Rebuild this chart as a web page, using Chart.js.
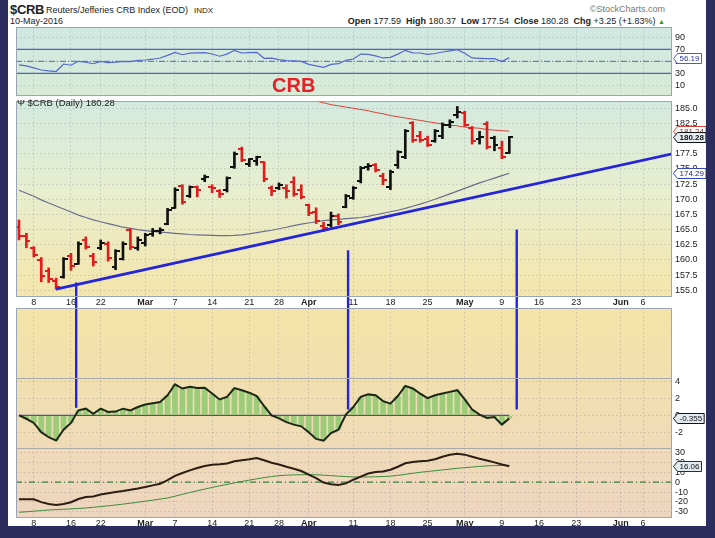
<!DOCTYPE html>
<html>
<head>
<meta charset="utf-8">
<script src="https://cdn.jsdelivr.net/npm/chart.js@4"></script>
<style>
html, body { margin: 0; padding: 0; }
body { width: 715px; height: 538px; background: #2c2d5e; position: relative; overflow: hidden;
       font-family: "Liberation Sans", Arial, sans-serif; color: #222; }
#card { position: absolute; left: 8px; top: 0; width: 698px; height: 526px; background: #fff; }
canvas { position: absolute; left: 8px; }
.t { position: absolute; white-space: nowrap; z-index: 5; }
.t b { font-weight: bold; }
</style>
</head>
<body>
<div id="card"></div>
<canvas id="rsi" width="698" height="69" style="top:27px"></canvas>
<canvas id="main" width="698" height="212" style="top:96px"></canvas>
<canvas id="lower" width="698" height="219" style="top:308px"></canvas>

<div class="t" style="left:10px;top:2px;font-size:13px;font-weight:bold;letter-spacing:-0.3px">$CRB</div>
<div class="t" style="left:46px;top:5px;font-size:9px">Reuters/Jefferies CRB Index (EOD)</div>
<div class="t" style="left:194px;top:6px;font-size:8px">INDX</div>
<div class="t" style="left:10px;top:16px;font-size:9px">10-May-2016</div>
<div class="t" style="right:50px;top:4px;font-size:9px;color:#777">&copy;StockCharts.com</div>
<div class="t" style="right:50px;top:16px;font-size:9px"><b>Open</b> 177.59 &nbsp;<b>High</b> 180.37 &nbsp;<b>Low</b> 177.54 &nbsp;<b>Close</b> 180.28 &nbsp;<b>Chg</b> +3.25 (+1.83%) <span style="color:#2a9a2a;font-size:7px">&#9650;</span></div>
<div class="t" style="left:272px;top:74px;font-size:20px;font-weight:bold;color:#e52127">CRB</div>
<div class="t" id="legend" style="left:17px;top:97px;font-size:9.5px"></div>

<script>
// x positions are trading-day indexes (Feb 4 .. May 10, then empty days to Jun 10)
const tickIdx = [2, 7, 11, 17, 21, 26, 31, 35, 39, 45, 50, 55, 60, 65, 70, 75, 81, 84];
const tickLabels = ['8', '16', '22', 'Mar', '7', '14', '21', '28', 'Apr', '11', '18', '25', 'May', '9', '16', '23', 'Jun', '6'];

// daily OHLC
const opens = [165.4, 163.9, 161.9, 160.0, 158.2, 156.6, 157.2, 160.6, 159.4, 163.3,
  160.6, 161.9, 162.6, 158.8, 160.2, 164.9, 162.0, 162.8, 164.3, 164.7,
  166.0, 168.6, 172.2, 170.6, 172.0, 173.3, 172.1, 171.4, 171.6, 175.4,
  178.3, 175.9, 176.3, 176.2, 171.8, 171.9, 171.9, 172.8, 171.6, 169.0,
  167.9, 165.6, 165.8, 167.2, 168.8, 170.2, 173.0, 175.3, 175.7, 173.8,
  172.0, 175.6, 177.0, 182.5, 180.5, 179.9, 179.6, 180.5, 182.2, 183.9,
  184.2, 181.8, 180.0, 182.4, 180.1, 178.4, 177.59];
const highs = [166.6, 164.4, 162.2, 160.4, 158.7, 157.0, 160.4, 161.1, 163.0, 163.8,
  161.1, 163.3, 163.0, 161.7, 163.0, 165.2, 163.8, 164.4, 165.2, 165.3,
  168.5, 171.9, 172.4, 172.2, 172.2, 174.0, 172.4, 171.6, 173.7, 177.8,
  178.6, 176.7, 177.1, 176.2, 172.2, 172.7, 172.4, 173.7, 172.4, 169.2,
  168.6, 166.2, 167.9, 167.6, 170.8, 172.1, 175.4, 175.9, 175.9, 174.3,
  174.8, 178.0, 181.5, 182.8, 181.2, 180.4, 181.5, 182.6, 183.1, 185.3,
  184.5, 182.0, 181.2, 182.8, 180.4, 179.6, 180.37];
const lows = [163.3, 162.0, 160.5, 156.4, 156.3, 155.2, 157.0, 158.3, 159.3, 161.8,
  159.0, 161.7, 159.8, 158.4, 160.0, 161.7, 161.6, 162.3, 163.9, 164.3,
  165.8, 168.5, 169.2, 170.3, 170.4, 172.9, 171.1, 170.3, 171.2, 175.1,
  176.2, 175.4, 175.6, 172.9, 170.6, 171.6, 170.2, 170.5, 170.1, 167.3,
  166.0, 164.7, 165.4, 165.8, 168.6, 170.0, 172.7, 174.8, 174.5, 172.4,
  171.6, 175.1, 176.7, 179.4, 179.4, 178.7, 179.4, 180.0, 181.8, 183.4,
  182.0, 179.1, 179.1, 178.3, 178.0, 176.7, 177.54];
const closes = [164.0, 163.2, 160.9, 157.4, 156.8, 155.6, 160.1, 159.0, 162.6, 162.2,
  159.6, 162.8, 160.4, 161.4, 162.6, 162.2, 163.3, 164.1, 164.7, 165.0,
  168.3, 171.6, 169.6, 172.0, 171.5, 173.6, 171.8, 170.8, 173.5, 177.5,
  176.5, 176.6, 176.9, 173.4, 171.3, 172.3, 171.4, 170.9, 170.4, 167.8,
  166.4, 165.3, 167.3, 166.3, 170.5, 171.8, 175.1, 175.5, 174.8, 173.1,
  174.5, 177.8, 181.3, 179.8, 179.7, 179.0, 181.2, 182.3, 182.7, 184.4,
  182.3, 179.6, 180.2, 178.6, 178.9, 177.03, 180.28];

// moving averages
const maShort = [171.5, 171.0, 170.5, 169.9, 169.4, 168.9, 168.4, 167.9, 167.4, 167.0,
  166.6, 166.3, 166.0, 165.7, 165.4, 165.2, 165.0, 164.85, 164.7, 164.6,
  164.5, 164.4, 164.3, 164.2, 164.15, 164.1, 164.05, 164.0, 164.0, 164.05,
  164.15, 164.3, 164.5, 164.7, 164.9, 165.15, 165.4, 165.65, 165.9, 166.1,
  166.3, 166.5, 166.6, 166.7, 166.8, 166.9, 167.0, 167.2, 167.45, 167.7,
  167.95, 168.2, 168.5, 168.85, 169.2, 169.6, 170.0, 170.45, 170.9, 171.35,
  171.8, 172.25, 172.7, 173.1, 173.5, 173.9, 174.29];
const maLongStart = 39;
const maLong = [186.6, 186.2, 185.9, 185.6, 185.4, 185.2, 185.0, 184.8, 184.6, 184.3,
  184.1, 183.8, 183.6, 183.4, 183.2, 183.0, 182.8, 182.6, 182.4, 182.2,
  182.1, 181.9, 181.8, 181.7, 181.5, 181.4, 181.3, 181.24];

// RSI panel
const rsi = [44, 42.5, 39, 35.5, 34, 33, 45.5, 43.5, 50, 48.5,
  46, 50, 47.8, 48.5, 50, 49.4, 51.5, 52.2, 53.5, 55.5,
  60, 65, 61, 63.5, 64, 64.4, 62.2, 58.5, 62, 68.3,
  63.9, 64.5, 65, 55, 55.3, 52.8, 51.2, 50.6, 50, 45,
  42.5, 40, 45, 46, 51.5, 53.9, 62, 61.5, 59, 55.6,
  56.7, 62, 68.3, 64, 63.9, 61.5, 63, 65.5, 67.5, 69.4,
  63.5, 55.6, 55, 54.4, 54.4, 49.5, 56.19];
const rsiTicks = [90, 70, 50, 30, 10];

// histogram panel
const hist = [0.0, -0.4, -0.9, -2.0, -2.6, -3.0, -1.7, -0.9, 0.6, 0.8,
  0.2, 0.8, 0.4, 0.45, 0.8, 0.6, 1.0, 1.3, 1.45, 1.6,
  2.4, 3.7, 3.2, 3.4, 3.25, 3.3, 2.6, 1.9, 2.2, 3.25,
  3.0, 2.7, 2.3, 1.1, 0.0, -0.35, -0.8, -1.1, -1.3, -2.0,
  -2.8, -3.0, -2.1, -1.7, 0.1, 1.0, 2.2, 2.5, 2.4, 1.7,
  1.4, 2.3, 3.5, 3.2, 2.6, 2.05, 2.4, 2.6, 2.8, 3.0,
  1.9, 0.7, 0.1, -0.3, -0.2, -1.1, -0.355];
const histTicks = [4, 2, 0, -2];

// bottom oscillator panel
const osc = [-17.2, -17.2, -17.4, -20.2, -22.0, -23.0, -22.0, -20.3, -17.0, -15.0,
  -14.5, -12.6, -11.2, -10.0, -9.0, -7.8, -6.5, -5.0, -3.3, -1.7,
  2.0, 6.3, 9.2, 11.8, 14.3, 16.3, 17.4, 17.9, 18.8, 21.0,
  22.0, 23.0, 24.3, 22.0, 19.5, 17.8, 15.5, 13.5, 11.2, 7.6,
  4.0, -0.4, -2.2, -3.0, -1.3, 2.4, 5.5, 8.7, 10.2, 10.7,
  12.5, 15.5, 19.0, 20.2, 21.0, 21.6, 23.0, 25.6, 27.5, 28.7,
  27.7, 25.6, 23.6, 21.8, 19.9, 17.8, 16.06];
const oscSignal = [-30.4, -29.9, -29.3, -28.7, -28.1, -27.7, -27.4, -27.0, -26.6, -26.1,
  -25.4, -24.7, -23.9, -23.1, -22.2, -21.3, -20.3, -19.3, -18.2, -17.1,
  -16.0, -14.2, -12.3, -10.5, -8.8, -7.0, -5.4, -3.8, -2.3, -0.8,
  0.6, 2.0, 3.3, 4.5, 5.6, 6.5, 7.0, 7.3, 7.4, 7.5,
  7.4, 7.0, 6.5, 6.0, 5.6, 5.2, 5.1, 5.2, 5.4, 5.6,
  6.0, 6.8, 7.8, 8.9, 9.9, 10.7, 11.5, 12.3, 13.1, 13.9,
  14.6, 15.2, 15.8, 16.4, 16.7, 16.8, 16.9];
const oscTicks = [30, 20, 10, 0, -10, -20, -30];

// hand-drawn annotations
const trendX = [5, 88];
const trendY = [155.2, 177.5];
const markX = [7.7, 44.3, 67.0];
const markTop = [156.3, 161.6, 165.0];
const markBottom = [0.9, 0.7, 0.7];

const FONT = '"Liberation Sans", Arial, sans-serif';
const GRID = 'rgba(110,120,135,0.22)';
const RED = '#e01c1c';
const BLACK = '#111111';
const BLUE = '#2424d8';
const AXIS_W = 34;
const X_MIN = -0.4, X_MAX = 87.9;

Chart.defaults.font.family = FONT;
Chart.defaults.font.size = 9;
Chart.defaults.color = '#222';

const last = closes.length - 1;
document.getElementById('legend').textContent = '\u03a8 $CRB (Daily) ' + closes[last].toFixed(2);

const pts = arr => arr.map((v, i) => ({ x: i, y: v }));
const barColors = closes.map((c, i) => c < (i ? closes[i - 1] : opens[0]) ? RED : BLACK);

// small tick images for open (left) and close (right)
const tickImg = (color, left) => {
    const c = document.createElement('canvas');
    c.width = 8; c.height = 2;
    const g = c.getContext('2d');
    g.fillStyle = color;
    g.fillRect(left ? 0 : 4, 0, 4, 2);
    return c;
};
const openTick = { [RED]: tickImg(RED, true), [BLACK]: tickImg(BLACK, true) };
const closeTick = { [RED]: tickImg(RED, false), [BLACK]: tickImg(BLACK, false) };

// value tags, kept outside the chart options so nothing gets resolved through defaults
const tagLists = {
    rsi: [
        { axis: 'y', value: rsi[last], digits: 2, border: '#4a5ccc', bg: '#ffffff', ink: '#2b3a9a', bold: false }
    ],
    main: [
        { axis: 'y', value: maLong[maLong.length - 1], digits: 2, border: '#d8443c', bg: '#ffffff', ink: '#8a2020', bold: false },
        { axis: 'y', value: maShort[last], digits: 2, border: '#3546c0', bg: '#ffffff', ink: '#1e2a80', bold: false },
        { axis: 'y', value: closes[last], digits: 2, border: '#111111', bg: '#e3eaf0', ink: '#111111', bold: true }
    ],
    lower: [
        { axis: 'yHist', value: hist[last], digits: 3, border: '#111111', bg: '#e3eaf0', ink: '#111111', bold: false },
        { axis: 'yOsc', value: osc[last], digits: 2, border: '#1d3a1d', bg: '#e3eaf0', ink: '#111111', bold: false }
    ]
};

// Axes
const xAxis = labelH => ({
    type: 'linear', min: X_MIN, max: X_MAX, offset: false,
    afterBuildTicks: s => { s.ticks = tickIdx.map(v => ({ value: v })); },
    afterFit: s => { s.height = labelH; s.paddingLeft = 0; s.paddingRight = 0; },
    grid: { color: GRID, drawTicks: false, offset: false },
    border: { display: false, dash: [2, 2] },
    ticks: {
        display: labelH > 0, autoSkip: false, maxRotation: 0, padding: 0, color: '#222',
        callback: (v, i) => tickLabels[i],
        font: c => ({ family: FONT, size: 9, weight: /^[A-Z]/.test(tickLabels[c.index]) ? 'bold' : 'normal' })
    }
});

const yAxis = (min, max, ticks, fmt, extra) => Object.assign({
    type: 'linear', position: 'right', min, max,
    afterBuildTicks: s => { s.ticks = ticks.map(v => ({ value: v })); },
    afterFit: s => { s.width = AXIS_W; s.paddingTop = 0; s.paddingBottom = 0; },
    grid: { color: GRID, drawTicks: false },
    border: { display: false, dash: [2, 2] },
    ticks: { padding: 3, autoSkip: false, color: '#222', font: { family: FONT, size: 9 }, callback: fmt }
}, extra || {});

// Background gradient, level lines, frame
const panelPlugin = {
    id: 'panel',
    beforeDraw(chart, args, o) {
        const { ctx, chartArea: a } = chart;
        const g = ctx.createLinearGradient(0, a.top, 0, a.bottom);
        o.stops.forEach(s => g.addColorStop(s[0], s[1]));
        ctx.save();
        ctx.fillStyle = g;
        ctx.fillRect(a.left, a.top, a.width, a.height);
        ctx.restore();
    },
    beforeDatasetsDraw(chart, args, o) {
        const { ctx, chartArea: a } = chart;
        ctx.save();
        (o.levels || []).forEach(l => {
            const y = chart.scales[l.axis].getPixelForValue(l.value);
            const x0 = l.from === undefined ? a.left : chart.scales.x.getPixelForValue(l.from);
            const x1 = l.to === undefined ? a.right : chart.scales.x.getPixelForValue(l.to);
            ctx.strokeStyle = l.color;
            ctx.lineWidth = l.width || 1;
            ctx.setLineDash(l.dash || []);
            ctx.beginPath(); ctx.moveTo(x0, y); ctx.lineTo(x1, y); ctx.stroke();
        });
        ctx.restore();
    },
    afterDraw(chart, args, o) {
        const { ctx, chartArea: a } = chart;
        ctx.save();
        ctx.strokeStyle = '#9aa6b3';
        ctx.lineWidth = 1;
        ctx.strokeRect(a.left + 0.5, a.top + 0.5, a.width - 1, a.height - 1);
        ctx.strokeStyle = '#a9a9a9';
        (o.seps || []).forEach(id => {
            const y = Math.round(chart.scales[id].bottom) + 0.5;
            ctx.beginPath(); ctx.moveTo(a.left, y); ctx.lineTo(a.right, y); ctx.stroke();
        });
        ctx.restore();
    }
};

// Blue vertical annotation strokes
const markPlugin = {
    id: 'marks',
    afterDatasetsDraw(chart, args, o) {
        if (!o.values) return;
        const { ctx } = chart;
        const xs = chart.scales.x, ys = chart.scales[o.axis];
        ctx.save();
        ctx.strokeStyle = BLUE;
        ctx.lineWidth = 2.4;
        markX.forEach((v, k) => {
            const x = xs.getPixelForValue(v);
            const y = ys.getPixelForValue(o.values[k]);
            ctx.beginPath();
            ctx.moveTo(x, o.down ? y : 0);
            ctx.lineTo(x, o.down ? chart.height : y);
            ctx.stroke();
        });
        ctx.restore();
    }
};

// Value tags on the right axis
const tagPlugin = {
    id: 'tags',
    afterDraw(chart) {
        const { ctx, chartArea: a } = chart;
        (tagLists[chart.canvas.id] || []).forEach(t => {
            const text = t.value.toFixed(t.digits);
            const y = Math.round(chart.scales[t.axis].getPixelForValue(t.value)) + 0.5;
            const x = a.right + 1.5;
            ctx.save();
            ctx.font = (t.bold ? 'bold ' : '') + '8px ' + FONT;
            const w = ctx.measureText(text).width + 4;
            ctx.beginPath();
            ctx.moveTo(x, y);
            ctx.lineTo(x + 4, y - 5);
            ctx.lineTo(x + 4 + w, y - 5);
            ctx.lineTo(x + 4 + w, y + 5);
            ctx.lineTo(x + 4, y + 5);
            ctx.closePath();
            ctx.fillStyle = t.bg;
            ctx.fill();
            ctx.strokeStyle = t.border;
            ctx.lineWidth = 1;
            ctx.stroke();
            ctx.fillStyle = t.ink;
            ctx.textBaseline = 'middle';
            ctx.fillText(text, x + 6, y + 0.5);
            ctx.restore();
        });
    }
};

const baseOptions = (scales, plugins, padLeft) => ({
    responsive: false,
    animation: false,
    events: [],
    devicePixelRatio: 1,
    layout: { padding: { left: padLeft, right: 0, top: 0, bottom: 0 } },
    scales,
    plugins: Object.assign({ legend: { display: false }, tooltip: { enabled: false } }, plugins)
});

// RSI panel
new Chart(document.getElementById('rsi'), {
    type: 'line',
    data: {
        datasets: [{
            data: pts(rsi), borderColor: '#5368d0', borderWidth: 1.2, pointRadius: 0
        }]
    },
    options: baseOptions({
        x: xAxis(0),
        y: yAxis(-7.8, 107.2, rsiTicks, v => String(v))
    }, {
        panel: {
            stops: [[0, '#cfe8e2'], [1, '#d8ecd6']],
            levels: [
                { axis: 'y', value: 70, color: '#5262c8', width: 1.2 },
                { axis: 'y', value: 30, color: '#5262c8', width: 1.2 },
                { axis: 'y', value: 50, color: '#5262c8', width: 1, dash: [6, 2, 1, 2] }
            ]
        }
    }, 8),
    plugins: [panelPlugin, tagPlugin]
});

// Price panel
new Chart(document.getElementById('main'), {
    type: 'bar',
    data: {
        datasets: [
            { type: 'line', data: trendX.map((v, i) => ({ x: v, y: trendY[i] })), borderColor: BLUE, borderWidth: 2.6, pointRadius: 0, order: 0 },
            { type: 'scatter', data: pts(opens), pointStyle: c => openTick[barColors[c.dataIndex]], pointRadius: 2, order: 1 },
            { type: 'scatter', data: pts(closes), pointStyle: c => closeTick[barColors[c.dataIndex]], pointRadius: 2, order: 1 },
            { type: 'bar', data: closes.map((c, i) => ({ x: i, y: [lows[i], highs[i]] })), backgroundColor: barColors, barThickness: 2, borderWidth: 0, order: 2 },
            { type: 'line', data: pts(maShort), borderColor: '#6b6f8c', borderWidth: 1.2, pointRadius: 0, order: 3 },
            { type: 'line', data: maLong.map((v, k) => ({ x: maLongStart + k, y: v })), borderColor: '#d8443c', borderWidth: 1, pointRadius: 0, order: 3 }
        ]
    },
    options: baseOptions({
        x: xAxis(11),
        y: yAxis(153.9, 186.2, [185, 182.5, 180, 177.5, 175, 172.5, 170, 167.5, 165, 162.5, 160, 157.5, 155], v => v.toFixed(1))
    }, {
        panel: { stops: [[0, '#d3eadf'], [0.45, '#e7eecf'], [1, '#f5e5ab']] },
        marks: { axis: 'y', values: markTop, down: true }
    }, 8),
    plugins: [panelPlugin, markPlugin, tagPlugin]
});

// Lower panels: empty band, histogram, oscillator
new Chart(document.getElementById('lower'), {
    type: 'bar',
    data: {
        datasets: [
            { type: 'line', yAxisID: 'yHist', data: pts(hist), borderColor: '#1d2814', borderWidth: 2, pointRadius: 0, order: 0 },
            { type: 'bar', yAxisID: 'yHist', data: pts(hist), backgroundColor: '#9ccb7a', categoryPercentage: 1, barPercentage: 0.78, borderWidth: 0, order: 1 },
            { type: 'line', yAxisID: 'yOsc', data: pts(osc), borderColor: '#2b1d12', borderWidth: 2, pointRadius: 0, order: 0 },
            { type: 'line', yAxisID: 'yOsc', data: pts(oscSignal), borderColor: '#3c8c3c', borderWidth: 1, pointRadius: 0, order: 1 }
        ]
    },
    options: baseOptions({
        x: xAxis(9),
        yEmpty: yAxis(0, 1, [], v => '', { stack: 'lower', stackWeight: 1, grid: { display: false }, ticks: { display: false } }),
        yHist: yAxis(-3.88, 4.45, histTicks, v => String(v), { stack: 'lower', stackWeight: 1 }),
        yOsc: yAxis(-36.2, 34.4, oscTicks, v => String(v), { stack: 'lower', stackWeight: 1 })
    }, {
        panel: {
            stops: [[0, '#f4e4a8'], [0.5, '#f1ddb3'], [1, '#eed5c0']],
            seps: ['yEmpty', 'yHist'],
            levels: [
                { axis: 'yHist', value: 0, color: '#4a4aa0', width: 1.3, from: 0, to: last },
                { axis: 'yOsc', value: 0, color: '#3f7f3f', width: 1.2, dash: [6, 3, 1, 3] }
            ]
        },
        marks: { axis: 'yHist', values: markBottom, down: false }
    }, 8),
    plugins: [panelPlugin, markPlugin, tagPlugin]
});
</script>
</body>
</html>
